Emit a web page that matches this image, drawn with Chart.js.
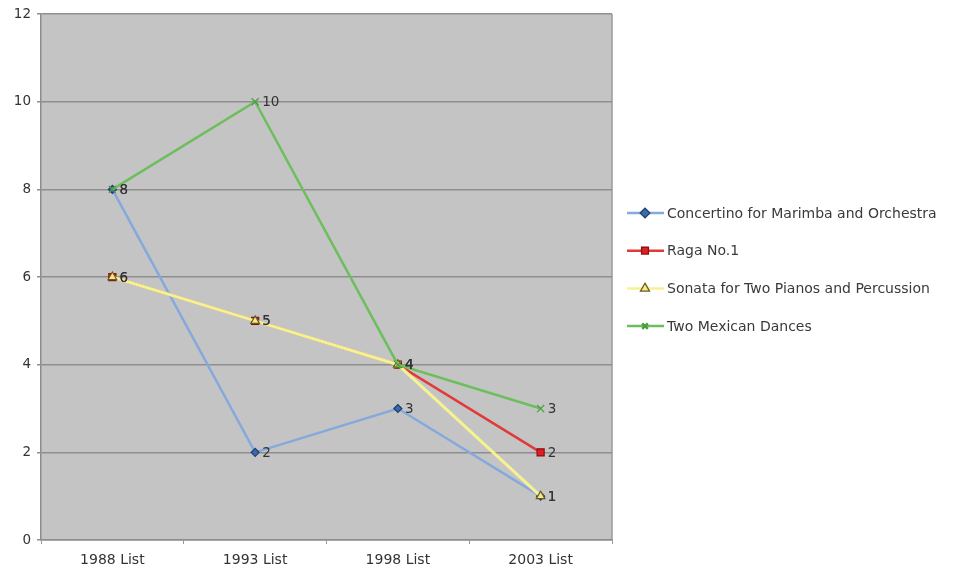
<!DOCTYPE html>
<html>
<head>
<meta charset="utf-8">
<title>Repertoire list rankings</title>
<script src="https://cdn.jsdelivr.net/npm/chart.js@4/dist/chart.umd.min.js"></script>
<style>
  html, body { margin: 0; padding: 0; background: #ffffff; }
  #wrap { width: 953px; height: 569px; }
</style>
</head>
<body>
<div id="wrap"><canvas id="c" width="953" height="569"></canvas></div>
<script>
// Categories and series values
const lists = ['1988 List', '1993 List', '1998 List', '2003 List'];
const concertino = [8, 2, 3, 1];
const raga = [6, 5, 4, 2];
const sonata = [6, 5, 4, 1];
const mexican = [8, 10, 4, 3];
const yTicks = [0, 2, 4, 6, 8, 10, 12];

const FONT = '"DejaVu Sans", Verdana, sans-serif';

// Grey plot background with a right-hand edge
const plotBg = {
  id: 'plotBg',
  beforeDraw(chart) {
    const { ctx, chartArea: a } = chart;
    ctx.save();
    ctx.fillStyle = '#c4c4c4';
    ctx.fillRect(a.left, a.top, a.right - a.left, a.bottom - a.top);
    ctx.strokeStyle = '#9a9a9a';
    ctx.lineWidth = 1.5;
    ctx.beginPath();
    ctx.moveTo(a.right, a.top);
    ctx.lineTo(a.right, a.bottom);
    ctx.stroke();
    ctx.restore();
  }
};

// Value labels beside every point
const valueLabels = {
  id: 'valueLabels',
  afterDatasetsDraw(chart) {
    const { ctx } = chart;
    ctx.save();
    ctx.font = '13.5px ' + FONT;
    ctx.fillStyle = '#333333';
    ctx.textBaseline = 'middle';
    ctx.textAlign = 'left';
    chart.data.datasets.forEach((ds, i) => {
      const meta = chart.getDatasetMeta(i);
      meta.data.forEach((pt, j) => {
        ctx.fillText(String(ds.data[j]), pt.x + 7, pt.y + 1);
      });
    });
    ctx.restore();
  }
};

// Legend on the right: line sample with marker, then series name
const sideLegend = {
  id: 'sideLegend',
  afterDraw(chart) {
    const { ctx } = chart;
    ctx.save();
    ctx.font = '14px ' + FONT;
    ctx.textBaseline = 'middle';
    chart.data.datasets.forEach((ds, i) => {
      const y = 213 + i * 37.7;
      ctx.strokeStyle = ds.borderColor;
      ctx.lineWidth = 2.5;
      ctx.beginPath();
      ctx.moveTo(627, y);
      ctx.lineTo(664, y);
      ctx.stroke();
      ctx.fillStyle = ds.pointBackgroundColor;
      ctx.strokeStyle = ds.pointBorderColor;
      Chart.helpers.drawPoint(ctx, {
        pointStyle: ds.pointStyle,
        radius: 4,
        rotation: 0,
        borderWidth: 1
      }, 645, y);
      ctx.fill();
      ctx.fillStyle = '#3a3a3a';
      ctx.fillText(ds.label, 667, y + 1);
    });
    ctx.restore();
  }
};

function series(label, data, line, width, style, fill, edge, radius, order) {
  return {
    label, data, order,
    borderColor: line,
    borderWidth: width,
    pointStyle: style,
    pointRadius: radius,
    pointHoverRadius: radius,
    pointBackgroundColor: fill,
    pointBorderColor: edge,
    pointBorderWidth: 1.2,
    tension: 0,
    fill: false
  };
}

new Chart(document.getElementById('c'), {
  type: 'line',
  data: {
    labels: lists,
    datasets: [
      series('Concertino for Marimba and Orchestra', concertino, '#85a9dc', 2.5, 'rectRot', '#3b6aa8', '#1f3f6e', 4, 4),
      series('Raga No.1', raga, '#e23a3a', 2.5, 'rect', '#e01c24', '#8a1010', 5, 3),
      series('Sonata for Two Pianos and Percussion', sonata, '#f7f290', 3, 'triangle', '#f6e98a', '#6a5a20', 5, 2),
      series('Two Mexican Dances', mexican, '#6cbf5c', 2.5, 'crossRot', '#5aaa4a', '#4f9c40', 5, 1)
    ]
  },
  options: {
    responsive: false,
    animation: false,
    layout: { padding: { left: 0, top: 14, right: 341, bottom: 0 } },
    plugins: {
      legend: { display: false },
      tooltip: { enabled: false }
    },
    scales: {
      x: {
        offset: true,
        afterFit(scale) { scale.height = 29; },
        grid: {
          offset: true,
          drawOnChartArea: false,
          tickLength: 4,
          color: '#999999'
        },
        border: { color: '#8c8c8c', width: 1.5 },
        ticks: {
          color: '#333333',
          font: { family: FONT, size: 14 },
          padding: 8
        }
      },
      y: {
        min: 0,
        max: 12,
        afterFit(scale) { scale.width = 41; },
        afterBuildTicks(scale) { scale.ticks = yTicks.map(v => ({ value: v })); },
        grid: {
          color: '#8e8e8e',
          lineWidth: 1.5,
          tickLength: 4
        },
        border: { color: '#8c8c8c', width: 1.5 },
        ticks: {
          color: '#333333',
          font: { family: FONT, size: 13.5 },
          padding: 6
        }
      }
    }
  },
  plugins: [plotBg, valueLabels, sideLegend]
});
</script>
</body>
</html>
